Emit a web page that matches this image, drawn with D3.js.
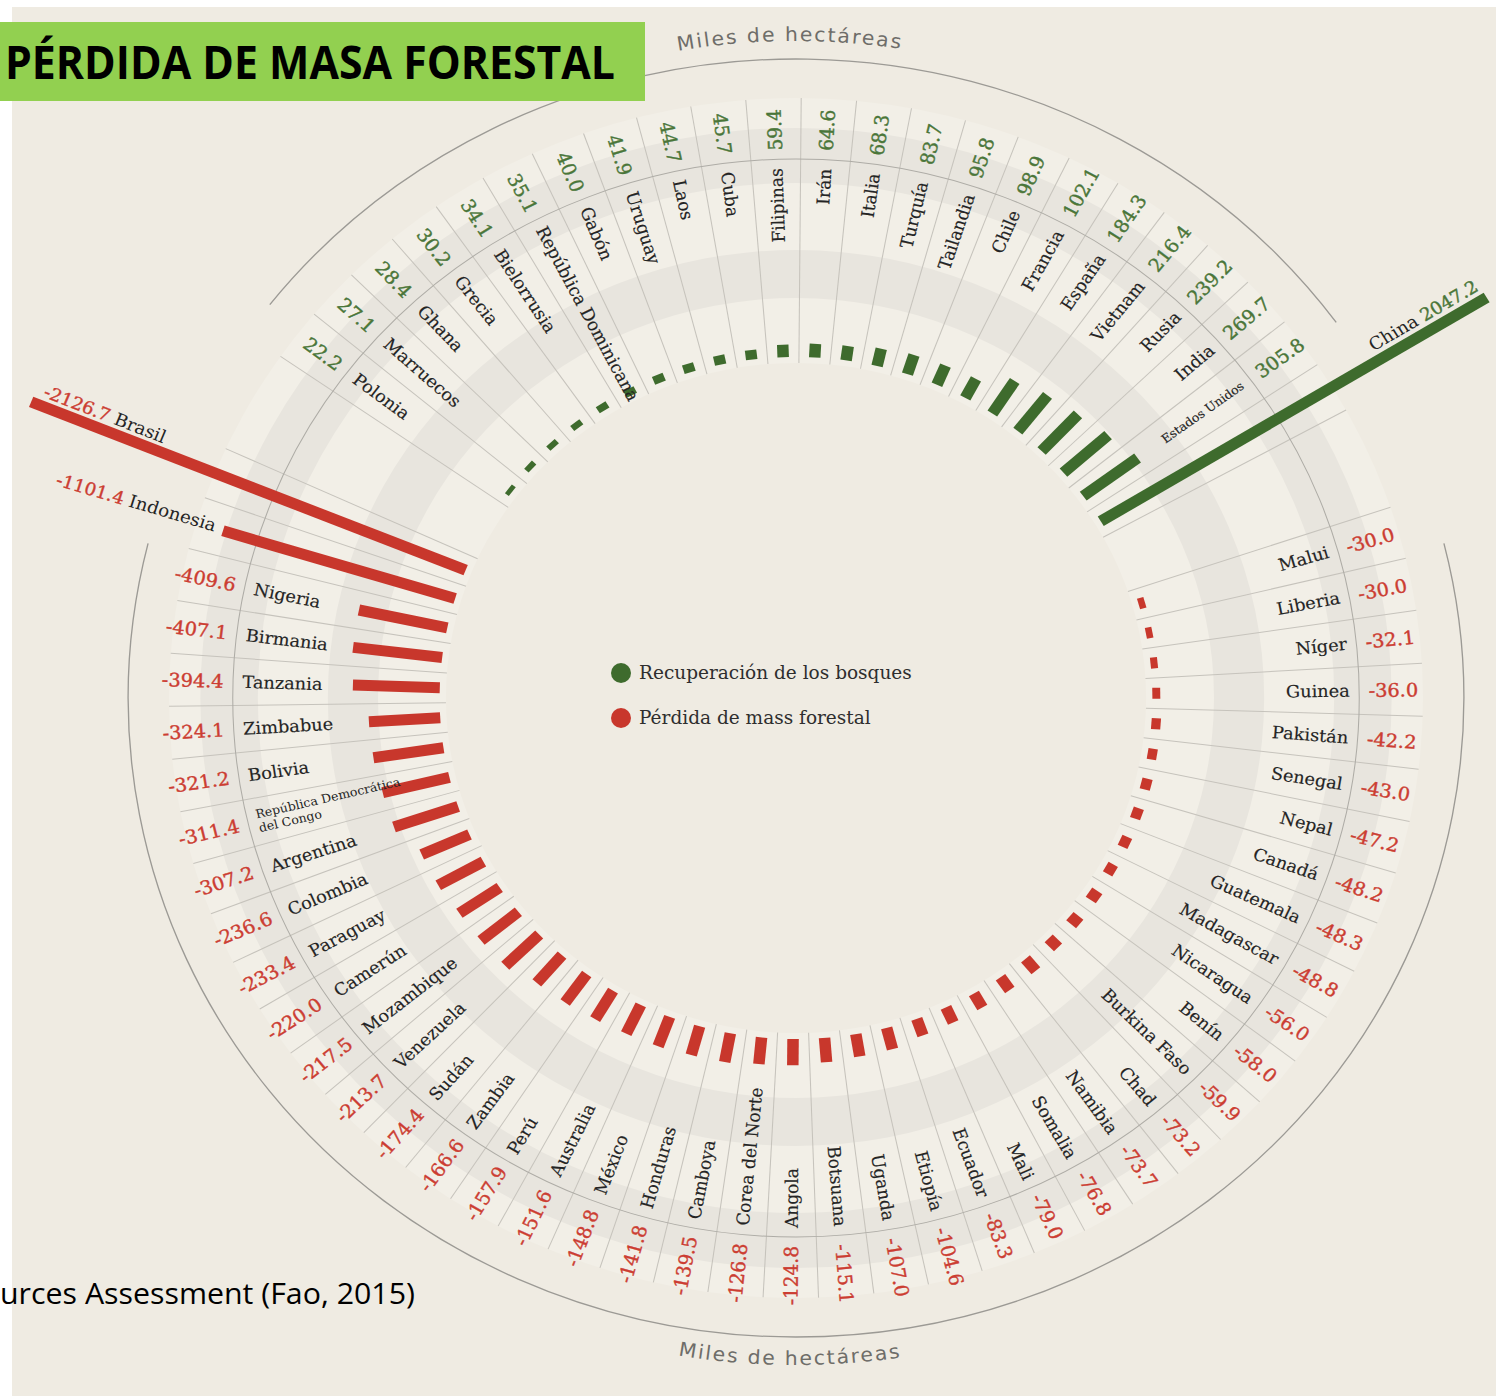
<!DOCTYPE html>
<html lang="es">
<head>
<meta charset="UTF-8">
<title>Pérdida de masa forestal</title>
<script src="https://cdn.jsdelivr.net/npm/d3@7"></script>
<style>
  body { margin: 0; background: #fff; }
</style>
</head>
<body>
<script>
// datos (miles de hectáreas)
const greenCountries = ["Polonia", "Marruecos", "Ghana", "Grecia", "Bielorrusia", "República Dominicana",
  "Gabón", "Uruguay", "Laos", "Cuba", "Filipinas", "Irán", "Italia", "Turquía", "Tailandia", "Chile",
  "Francia", "España", "Vietnam", "Rusia", "India", "Estados Unidos", "China"];
const greenValues = [22.2, 27.1, 28.4, 30.2, 34.1, 35.1, 40.0, 41.9, 44.7, 45.7, 59.4, 64.6, 68.3,
  83.7, 95.8, 98.9, 102.1, 184.3, 216.4, 239.2, 269.7, 305.8, 2047.2];

const redCountries = ["Brasil", "Indonesia", "Nigeria", "Birmania", "Tanzania", "Zimbabue", "Bolivia",
  "República Democrática del Congo", "Argentina", "Colombia", "Paraguay", "Camerún", "Mozambique",
  "Venezuela", "Sudán", "Zambia", "Perú", "Australia", "México", "Honduras", "Camboya", "Corea del Norte",
  "Angola", "Botsuana", "Uganda", "Etiopía", "Ecuador", "Mali", "Somalia", "Namibia", "Chad",
  "Burkina Faso", "Benín", "Nicaragua", "Madagascar", "Guatemala", "Canadá", "Nepal", "Senegal",
  "Pakistán", "Guinea", "Níger", "Liberia", "Malui"];
const redValues = [-2126.7, -1101.4, -409.6, -407.1, -394.4, -324.1, -321.2, -311.4, -307.2, -236.6,
  -233.4, -220.0, -217.5, -213.7, -174.4, -166.6, -157.9, -151.6, -148.8, -141.8, -139.5, -126.8,
  -124.8, -115.1, -107.0, -104.6, -83.3, -79.0, -76.8, -73.7, -73.2, -59.9, -58.0, -56.0, -48.8,
  -48.3, -48.2, -47.2, -43.0, -42.2, -36.0, -32.1, -30.0, -30.0];

const legendLabels = ["Recuperación de los bosques", "Pérdida de mass forestal"];
const unitLabel = "Miles de hectáreas";
const titleText = "PÉRDIDA DE MASA FORESTAL";
const sourceText = "urces Assessment (Fao, 2015)";

const W = 1499, H = 1398;
const cx = 796, cy = 698, sx = 1.045;   // el gráfico original está algo estirado en horizontal
const r0 = 341, rName = 530, rValue = 548, rMid = 539, rOuter = 639;
const green = '#3e6b2d', red = '#c8372c';
const greenText = '#4a7639', redText = '#cc3d32', ink = '#242424';
const serif = "'DejaVu Serif', 'Liberation Serif', serif";

const svg = d3.select('body').append('svg')
    .attr('width', W)
    .attr('height', H);

svg.append('rect')
    .attr('x', 12).attr('y', 7)
    .attr('width', 1484).attr('height', 1389)
    .attr('fill', '#efebe2');

// una fila por hueco angular: verdes, 2 vacíos, rojos (de menor a mayor), 2 vacíos
const rows = greenCountries.map((c, i) => ({name: c, value: greenValues[i], type: 'g'}))
    .concat(['_v1', '_v2'].map(k => ({name: k, gap: true})))
    .concat(redCountries.map((c, i) => ({name: c, value: redValues[i], type: 'r'})).reverse())
    .concat(['_v3', '_v4'].map(k => ({name: k, gap: true})));
const items = rows.filter(d => !d.gap);

// escala angular (grados, sentido horario desde las 12)
const angle = d3.scaleBand()
    .domain(rows.map(d => d.name))
    .range([-55.3, 304.7]);
const ang = d => angle(d.name) + angle.bandwidth() / 2;

// longitud de la barra
const len = d3.scaleLinear()
    .domain([0, 2200])
    .range([0, 464]);

const g = svg.append('g')
    .attr('transform', `translate(${cx},${cy}) scale(${sx},1)`);

const ring = d3.arc();
const full = (a, b) => ring({innerRadius: a, outerRadius: b, startAngle: 0, endAngle: 2 * Math.PI});

g.append('path').attr('d', full(335, 600)).attr('fill', '#f2efe7');
[[400, 448], [515, 570]].forEach(b => {
    g.append('path').attr('d', full(b[0], b[1])).attr('fill', '#e8e5de');
});

// separadores radiales
const edges = new Set();
items.forEach(d => {
    edges.add(+angle(d.name).toFixed(3));
    edges.add(+(angle(d.name) + angle.bandwidth()).toFixed(3));
});
g.selectAll('line.sep')
    .data([...edges])
    .join('line')
    .attr('class', 'sep')
    .attr('transform', a => `rotate(${a - 90})`)
    .attr('x1', 335).attr('x2', 600)
    .attr('stroke', '#c6c3bc')
    .attr('stroke-width', 1);

// arcos finos
const rad = a => (a - 90) * Math.PI / 180;
function arcPath(r, a0, a1, ccw) {
    const p = d3.path();
    p.arc(0, 0, r, rad(a0), rad(a1), ccw);
    return p.toString();
}
g.append('circle').attr('r', rMid).attr('fill', 'none')
    .attr('stroke', '#aeaca6').attr('stroke-width', 1);
g.append('path').attr('d', arcPath(rOuter, -52, 54, false))
    .attr('fill', 'none').attr('stroke', '#9c9a95').attr('stroke-width', 1.3);
g.append('path').attr('d', arcPath(rOuter, 76, 284, false))
    .attr('fill', 'none').attr('stroke', '#9c9a95').attr('stroke-width', 1.3);

// barras
g.selectAll('rect.bar')
    .data(items)
    .join('rect')
    .attr('class', 'bar')
    .attr('transform', d => `rotate(${ang(d) - 90})`)
    .attr('x', r0)
    .attr('y', -5.5)
    .attr('width', d => len(Math.abs(d.value)))
    .attr('height', 11)
    .attr('fill', d => d.type === 'g' ? green : red);

// etiquetas
const fmt = v => v.toFixed(1);
const outward = d => {
    const a = ((ang(d) + 3) % 360 + 360) % 360;
    return a > 0 && a < 180;
};
const big = d => Math.abs(d.value) > 1000;

items.filter(d => !big(d)).forEach(d => {
    const out = outward(d);
    const lg = g.append('g')
        .attr('transform', `rotate(${out ? ang(d) - 90 : ang(d) + 90})`)
        .attr('font-family', serif);
    if (d.name === 'República Democrática del Congo') {
        const t = lg.append('text')
            .attr('text-anchor', out ? 'end' : 'start')
            .attr('font-size', 12).attr('fill', ink);
        t.append('tspan').attr('x', out ? rName : -rName).attr('y', -3).text('República Democrática');
        t.append('tspan').attr('x', out ? rName : -rName).attr('y', 11).text('del Congo');
    } else {
        lg.append('text')
            .attr('x', out ? rName : -rName)
            .attr('dy', '0.35em')
            .attr('text-anchor', out ? 'end' : 'start')
            .attr('font-size', d.name === 'Estados Unidos' ? 12 : 17)
            .attr('fill', ink)
            .attr('stroke', ink).attr('stroke-width', 0.15)
            .text(d.name);
    }
    const vc = d.type === 'g' ? greenText : redText;
    lg.append('text')
        .attr('x', out ? rValue : -rValue)
        .attr('dy', '0.35em')
        .attr('text-anchor', out ? 'start' : 'end')
        .attr('font-size', 18.5)
        .attr('fill', vc)
        .attr('stroke', vc).attr('stroke-width', 0.4)
        .text(fmt(d.value));
});

// barras grandes: rótulo junto al extremo
items.filter(big).forEach(d => {
    const out = outward(d);
    const rEnd = r0 + len(Math.abs(d.value));
    const lg = g.append('g')
        .attr('transform', `rotate(${out ? ang(d) - 90 : ang(d) + 90})`)
        .attr('font-family', serif)
        .attr('font-size', 17.5);
    let t;
    if (out) {
        t = lg.append('text').attr('x', rEnd - 2).attr('y', -10).attr('text-anchor', 'end');
        t.append('tspan').attr('fill', ink).text(d.name + ' ');
        t.append('tspan').attr('fill', greenText).attr('stroke', greenText).attr('stroke-width', 0.4)
            .text(fmt(d.value));
    } else if (d.name === 'Brasil') {
        t = lg.append('text').attr('x', -rEnd + 8).attr('y', -9).attr('text-anchor', 'start');
        t.append('tspan').attr('fill', redText).attr('stroke', redText).attr('stroke-width', 0.4)
            .text(fmt(d.value));
        t.append('tspan').attr('fill', ink).text(' ' + d.name);
    } else {
        t = lg.append('text').attr('x', -rEnd - 8).attr('y', -3).attr('dy', '0.35em')
            .attr('text-anchor', 'end');
        t.append('tspan').attr('fill', redText).attr('stroke', redText).attr('stroke-width', 0.4)
            .text(fmt(d.value));
        t.append('tspan').attr('fill', ink).text(' ' + d.name);
    }
});

// "Miles de hectáreas" arriba y abajo
const defs = svg.append('defs');
defs.append('path').attr('id', 'unitTop').attr('d', arcPath(657, -30, 29, false));
defs.append('path').attr('id', 'unitBottom').attr('d', arcPath(667, 211.5, 149.5, true));
['unitTop', 'unitBottom'].forEach(id => {
    g.append('text')
        .attr('font-family', "'DejaVu Sans', 'Open Sans', sans-serif")
        .attr('font-size', 19.5)
        .attr('letter-spacing', 1.8)
        .attr('fill', '#6e6d69')
        .append('textPath')
        .attr('href', '#' + id)
        .attr('startOffset', '50%')
        .attr('text-anchor', 'middle')
        .text(unitLabel);
});

// leyenda
const legend = svg.append('g').attr('transform', 'translate(621,673)');
legendLabels.forEach((lab, i) => {
    legend.append('circle').attr('cx', 0).attr('cy', i * 45).attr('r', 10)
        .attr('fill', i === 0 ? green : red);
    legend.append('text').attr('x', 18).attr('y', i * 45).attr('dy', '0.35em')
        .attr('font-family', serif).attr('font-size', 18.5).attr('fill', '#2e2e2e')
        .text(lab);
});

// título
svg.append('rect').attr('x', 0).attr('y', 22).attr('width', 645).attr('height', 79)
    .attr('fill', '#92d050');
svg.append('text').attr('x', 5).attr('y', 79)
    .attr('font-family', "'Open Sans', 'Noto Sans', sans-serif")
    .attr('font-weight', 'bold').attr('font-size', 47)
    .attr('textLength', 610).attr('lengthAdjust', 'spacingAndGlyphs')
    .attr('fill', '#000')
    .text(titleText);

// fuente (cortada en el original)
svg.append('text').attr('x', 0).attr('y', 1304)
    .attr('font-family', "'Open Sans', 'Noto Sans', sans-serif")
    .attr('font-size', 30)
    .attr('textLength', 415).attr('lengthAdjust', 'spacingAndGlyphs')
    .attr('fill', '#000')
    .text(sourceText);
</script>
</body>
</html>
